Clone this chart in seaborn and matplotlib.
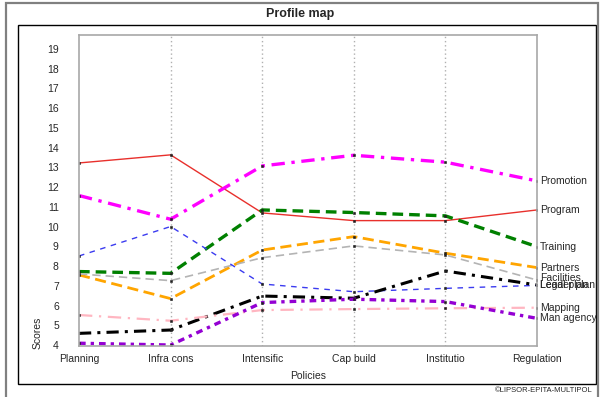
import matplotlib
matplotlib.use('Agg')
import matplotlib.pyplot as plt
from matplotlib.patches import Rectangle
import matplotlib.transforms as mtransforms
import seaborn as sns
import pandas as pd

# data
policies = ['Planning', 'Infra cons', 'Intensific', 'Cap build', 'Institutio', 'Regulation']
program = [13.22, 13.63, 10.69, 10.30, 10.30, 10.84]
promotion = [11.57, 10.37, 13.07, 13.61, 13.26, 12.31]
training = [7.72, 7.63, 10.84, 10.71, 10.54, 8.98]
partners = [7.55, 6.35, 8.81, 9.49, 8.65, 7.92]
facilities = [7.60, 7.26, 8.42, 9.02, 8.56, 7.29]
legal_plan = [8.51, 10.00, 7.09, 6.70, 6.87, 7.02]
leader_plan = [4.59, 4.76, 6.48, 6.37, 7.75, 7.04]
mapping = [5.52, 5.23, 5.77, 5.82, 5.86, 5.89]
man_agency = [4.09, 4.00, 6.15, 6.32, 6.20, 5.35]

names = ['Program', 'Promotion', 'Training', 'Partners', 'Facilities',
         'Legal plan', 'Leader plan', 'Mapping', 'Man agency']
values = [program, promotion, training, partners, facilities,
          legal_plan, leader_plan, mapping, man_agency]

rows = []
for n, v in zip(names, values):
    for p, s in zip(policies, v):
        rows.append({'Policy': p, 'Score': s, 'Series': n})
df = pd.DataFrame(rows)

# styles: colour, linewidth, dash pattern
styles = {
    'Program': ('#e8302c', 1.0, '-'),
    'Promotion': ('#ff00ff', 2.4, (0, (4, 2, 1, 2))),
    'Training': ('#008000', 2.4, (0, (3.2, 1.8))),
    'Partners': ('#ffa500', 2.0, (0, (4, 2))),
    'Facilities': ('#b4b4b4', 1.2, (0, (5, 3))),
    'Legal plan': ('#3b3bf0', 1.0, (0, (4, 4))),
    'Leader plan': ('#000000', 2.2, (0, (4, 2, 1, 2))),
    'Mapping': ('#ffb6c1', 1.6, (0, (6, 3, 1, 3))),
    'Man agency': ('#9400d3', 2.4, (0, (2, 1.5, 1, 1.5))),
}

sns.set_style('white')
plt.rcParams['font.family'] = ['Liberation Sans', 'DejaVu Sans']

fig = plt.figure(figsize=(6, 3.97), dpi=100)
ax = fig.add_axes([79 / 600, 1 - 346 / 397, 458 / 600, 311 / 397])

for n in names:
    c, lw, ls = styles[n]
    sns.lineplot(data=df[df['Series'] == n], x='Policy', y='Score', ax=ax,
                 color=c, linewidth=lw, linestyle=ls, marker='s', markersize=1.9,
                 markerfacecolor='#202020', markeredgecolor='#202020', mew=0.4)

ax.set_xlim(0, 5)
ax.set_ylim(3.95, 19.7)
ax.set_yticks(range(4, 20))
ax.set_xlabel('')
ax.set_ylabel('')
for x in range(1, 5):
    ax.axvline(x, color='#b0b0b0', lw=1, ls=(0, (1, 2)), zorder=0)
for sp in ax.spines.values():
    sp.set_color('#a8a8a8')
    sp.set_linewidth(1.2)
ax.tick_params(axis='y', length=2.5, width=0.8, color='#b0b0b0', pad=12, labelsize=7.5)
ax.tick_params(axis='x', length=0, pad=6, labelsize=7.5)

# series labels at the right end (Facilities nudged up a little)
nudge = {'Facilities': 0.12}
trans = mtransforms.blended_transform_factory(ax.transAxes, ax.transData)
for n, v in zip(names, values):
    ax.text(1.006, v[-1] + nudge.get(n, 0), n, transform=trans, fontsize=7.5,
            va='center', ha='left', clip_on=False)

fig.text(0.5, 1 - 14 / 397, 'Profile map', ha='center', va='center', fontsize=9, fontweight='bold')
fig.text(308 / 600, 1 - 376 / 397, 'Policies', ha='center', va='center', fontsize=7.5)
fig.text(38 / 600, 1 - 333 / 397, 'Scores', ha='center', va='center', rotation=90, fontsize=7.5)
fig.text(593 / 600, 1 - 391 / 397, '\u00a9LIPSOR-EPITA-MULTIPOL', ha='right', va='center', fontsize=5.5)

# frames
fig.add_artist(Rectangle((18 / 600, 1 - 384 / 397), 578 / 600, 359 / 397,
                         transform=fig.transFigure, fill=False, ec='black', lw=1))
fig.add_artist(Rectangle((6 / 600, -0.1), 592 / 600, 1.1 - 3 / 397,
                         transform=fig.transFigure, fill=False, ec='#808080', lw=1.6))

fig.savefig('out.png', dpi=100)
